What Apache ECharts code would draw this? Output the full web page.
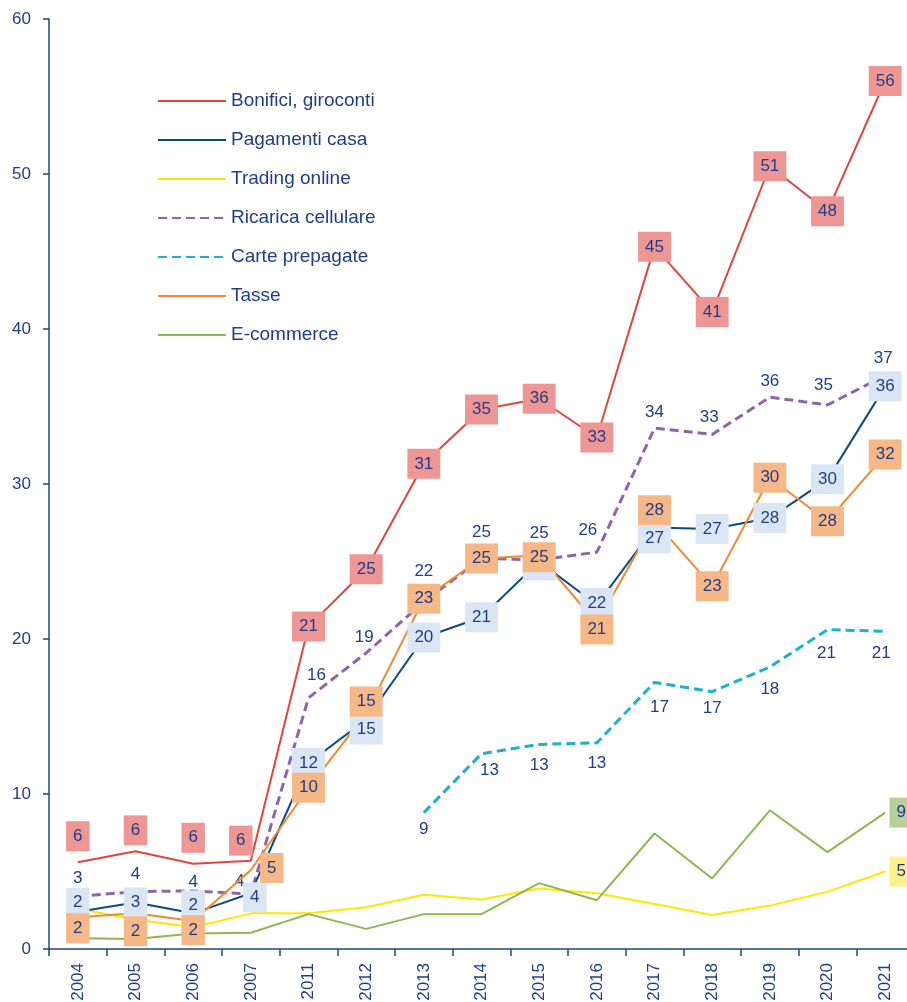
<!DOCTYPE html>
<html><head><meta charset="utf-8">
<script src="https://cdn.jsdelivr.net/npm/echarts@6.0.0/dist/echarts.min.js"></script>
<style>html,body{margin:0;padding:0;background:#fff}#c{width:907px;height:1002px}</style>
</head><body><div id="c"></div>
<script>
// ---- data ----
const years = ['2004','2005','2006','2007','2011','2012','2013','2014','2015','2016','2017','2018','2019','2020','2021'];
const seriesNames = ['Bonifici, giroconti','Pagamenti casa','Trading online','Ricarica cellulare','Carte prepagate','Tasse','E-commerce'];
const bonifici   = [5.6, 6.3, 5.5, 5.7, 20.8, 24.5, 31.3, 34.8, 35.5, 33.0, 45.3, 41.1, 50.5, 47.6, 56.0];
const pagamenti  = [2.4, 3.0, 2.3, 3.6, 12.0, 14.8, 20.1, 21.4, 25.0, 22.2, 27.2, 27.1, 27.8, 30.3, 36.3];
const trading    = [2.6, 1.9, 1.4, 2.3, 2.3, 2.7, 3.5, 3.2, 3.9, 3.6, 2.9, 2.2, 2.8, 3.7, 5.0];
const ricarica   = [3.4, 3.7, 3.75, 3.55, 16.2, 19.1, 22.4, 25.2, 25.1, 25.6, 33.6, 33.2, 35.6, 35.1, 37.0];
const carte      = [null, null, null, null, null, null, 8.8, 12.6, 13.2, 13.3, 17.2, 16.6, 18.2, 20.6, 20.5];
const tasse      = [2.05, 2.3, 1.8, 5.1, 10.4, 15.2, 22.6, 25.2, 25.4, 21.0, 27.6, 23.4, 30.4, 27.6, 31.9];
const ecommerce  = [0.7, 0.65, 1.0, 1.05, 2.25, 1.3, 2.25, 2.25, 4.25, 3.15, 7.45, 4.55, 8.95, 6.25, 8.8];
const yMin = 0, yMax = 60, yStep = 10;

// ---- label placement (layout only, px offsets) ----
const shiftBonifici  = [[0,-26],[0,-21],[0,-26],[-10,-20],[0,0],[0,0],[0,0],[0,0],[0,0],[0,0],[0,0],[0,0],[0,0],[0,0],[0,0]];
const shiftPagamenti = [[0,-9],[0,0],[0,-8],[4,4],[0,0],[0,10],[0,0],[0,0],[0,4],[0,-2],[0,11],[0,0],[0,0],[0,0],[0,0]];
const shiftTasse     = [[0,11],[0,18],[0,9],[21,-2],[0,0],[0,-12],[0,0],[0,0],[0,2],[0,6],[0,-11],[0,0],[0,0],[0,0],[0,0]];
const shiftRicarica  = [[0,-18],[0,-17],[0,-9],[-11,-13],[8,-23],[-2,-16],[0,-30],[0,-26],[0,-27],[-9,-22],[0,-16],[-3,-17],[0,-16],[-4,-20],[-2,-17]];
const shiftCarte     = [null,null,null,null,null,null,[0,17],[8,17],[0,21],[0,20],[5,25],[0,17],[0,22],[-1,24],[-4,22]];

const FONT = "'Liberation Sans', Arial, sans-serif";
const LBL = 17, AX = 17, LEG = 19;
const TXT = '#1f3d8c';
const AXC = '#17497f';

const fmt = p => Math.round(p.value);
function boxLabel(bg){
  return {show:true, position:'inside', backgroundColor:bg, padding:[6,7,6,7], lineHeight:18,
          fontSize:LBL, color:TXT, fontFamily:FONT, formatter:fmt};
}
function plainLabel(){
  return {show:true, position:'inside', fontSize:LBL, color:TXT, fontFamily:FONT, formatter:fmt};
}
function withShift(values, shifts){
  return values.map((v,i)=> v==null ? null : ({value:v, label:{offset: shifts[i] || [0,0]}}));
}
function lastOnly(values, dx){
  return values.map((v,i)=> i===values.length-1 ? {value:v, label:{show:true, offset:[dx,0]}} : {value:v, label:{show:false}});
}

const chart = echarts.init(document.getElementById('c'), null, {renderer:'canvas'});
const base = {type:'line', symbol:'circle', symbolSize:0, showSymbol:true, smooth:false, animation:false};
chart.setOption({
  animation:false,
  backgroundColor:'#ffffff',
  textStyle:{fontFamily:FONT},
  grid:{left:49, right:-7, top:19, bottom:53, outerBoundsMode:'none'},
  legend:{
    orient:'vertical', left:152, top:86, itemWidth:68, itemHeight:14, itemGap:19,
    itemStyle:{opacity:0},
    textStyle:{fontFamily:FONT, fontSize:LEG, color:TXT, lineHeight:20},
    data: seriesNames
  },
  xAxis:{
    type:'category', data:years, boundaryGap:true,
    axisLine:{lineStyle:{color:AXC, width:1.5}},
    axisTick:{show:true, length:7, lineStyle:{color:AXC, width:1.5}},
    axisLabel:{rotate:90, margin:14, fontSize:AX, color:TXT, fontFamily:FONT},
    splitLine:{show:false}
  },
  yAxis:{
    type:'value', min:yMin, max:yMax, interval:yStep,
    axisLine:{show:true, lineStyle:{color:AXC, width:1.5}},
    axisTick:{show:true, length:6, lineStyle:{color:AXC, width:1.5}},
    axisLabel:{margin:18, fontSize:AX, color:TXT, fontFamily:FONT},
    splitLine:{show:false}
  },
  series:[
    Object.assign({}, base, {name:seriesNames[0], color:'#e0443e', lineStyle:{width:2, color:'#e0443e'},
      data:withShift(bonifici, shiftBonifici), label:boxLabel('#ee9694'), z:3}),
    Object.assign({}, base, {name:seriesNames[1], color:'#0d4a85', lineStyle:{width:2, color:'#0d4a85'},
      data:withShift(pagamenti, shiftPagamenti), label:boxLabel('#dae6f3'), z:3}),
    Object.assign({}, base, {name:seriesNames[2], color:'#ffe800', lineStyle:{width:2, color:'#ffe800'},
      data:lastOnly(trading, 16), label:Object.assign(boxLabel('#fff18c'), {show:false}), z:2}),
    Object.assign({}, base, {name:seriesNames[3], color:'#8e65ab', lineStyle:{width:3, color:'#8e65ab', type:[9,5]},
      data:withShift(ricarica, shiftRicarica), label:plainLabel(), z:2}),
    Object.assign({}, base, {name:seriesNames[4], color:'#1fb0cc', lineStyle:{width:3, color:'#1fb0cc', type:[9,5]},
      data:withShift(carte, shiftCarte), label:plainLabel(), connectNulls:false, z:2}),
    Object.assign({}, base, {name:seriesNames[5], color:'#f3892c', lineStyle:{width:2, color:'#f3892c'},
      data:withShift(tasse, shiftTasse), label:boxLabel('#f6b886'), z:3}),
    Object.assign({}, base, {name:seriesNames[6], color:'#8db84e', lineStyle:{width:2, color:'#8db84e'},
      data:lastOnly(ecommerce, 16), label:Object.assign(boxLabel('#b6d098'), {show:false}), z:2})
  ]
});
</script>
</body></html>
